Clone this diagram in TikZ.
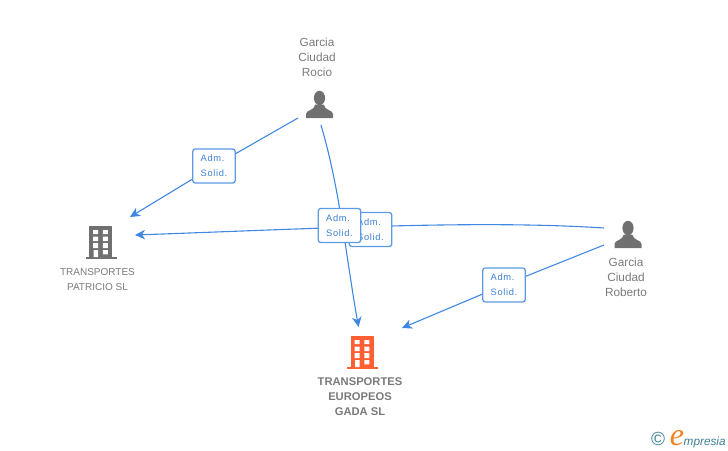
\documentclass[tikz,border=0pt]{standalone}
\usepackage{fontspec}
\setmainfont{Liberation Sans}
\newfontfamily\lblfont[LetterSpace=7]{Liberation Sans}
\newfontfamily\logofont[Ligatures=TeX]{Liberation Serif}
\usetikzlibrary{arrows.meta}
\pgfdeclarelayer{lines}
\pgfsetlayers{lines,main}
\definecolor{linkblue}{HTML}{3F87E3}
\definecolor{boxblue}{HTML}{5C9AE6}
\definecolor{lbltext}{HTML}{3B7FD4}
\definecolor{icongray}{HTML}{707070}
\definecolor{txtgray}{HTML}{7A7A7A}
\definecolor{bldorange}{HTML}{FF5F33}
\definecolor{logoteal}{HTML}{3F7F95}
\definecolor{logoorange}{HTML}{F58220}
\tikzset{
  x=1pt,y=-1pt,
  lbl/.style={draw=boxblue,line width=1.3pt,fill=white,rounded corners=2.5pt,
    minimum width=42.5pt,minimum height=34pt,inner sep=0pt,text=lbltext,align=left,
    font=\fontsize{9.3}{15}\lblfont},
  link/.style={draw=linkblue,line width=1.1pt},
  arrowlink/.style={link,-{Stealth[length=10pt,width=9.5pt,inset=3pt]}},
  person/.style={align=center,text=txtgray,inner sep=0pt,font=\fontsize{11.8}{15}\selectfont},
  company/.style={align=center,text=txtgray,inner sep=0pt,font=\fontsize{10}{15}\selectfont},
  maincompany/.style={align=center,text=txtgray,inner sep=0pt,font=\fontsize{11.2}{15}\bfseries},
  pics/building/.style={code={
    \fill[#1] (-11.5,-16.5) rectangle (11.5,14.5);
    \fill[#1] (-15,14.5) rectangle (16,16.5);
    \fill[white]
      (-7.3,-12.5) rectangle (-2.3,-8.5) (2.3,-12.5) rectangle (7.3,-8.5)
      (-7.3,-5.8) rectangle (-2.3,-1.5) (2.3,-5.8) rectangle (7.3,-1.5)
      (-7.3,0.5) rectangle (-2.3,5.5) (2.3,0.5) rectangle (7.3,5.5)
      (-7,7.5) rectangle (-2.3,14.5) (2.3,7.5) rectangle (7.3,11.8);
  }},
  pics/bust/.style={code={
    \fill[icongray] (0,-6.5) ellipse (5.6 and 7.2);
    \fill[icongray] (-13.5,13.5) -- (-13.5,9.5) .. controls (-13.5,5.5) and (-5,6) .. (-4.2,0)
      -- (4.2,0) .. controls (5,6) and (13.5,5.5) .. (13.5,9.5) -- (13.5,13.5) -- cycle;
  }},
}
\begin{document}
\begin{tikzpicture}
\path[use as bounding box] (0,0) rectangle (728,450);

% icons
\coordinate (rocioIcon) at (319.5,104.5);
\coordinate (robertoIcon) at (628,234.5);
\coordinate (patricioIcon) at (100.5,242.5);
\coordinate (gadaIcon) at (362,352.5);
\pic at (rocioIcon) {bust};
\pic at (robertoIcon) {bust};
\pic at (patricioIcon) {building=icongray};
\pic at (gadaIcon) {building=bldorange};

% texts
\node[person] (rocioText) at (317,57) {Garcia\\Ciudad\\Rocio};
\node[person] (robertoText) at (626,277) {Garcia\\Ciudad\\Roberto};
\node[company] (patricioText) at (97.5,279.5) {TRANSPORTES\\PATRICIO SL};
\node[maincompany] (gadaText) at (360,397) {TRANSPORTES\\EUROPEOS\\GADA SL};

% relation labels
\node[lbl] (lab1) at (214,166) {Adm.\\Solid.};
\node[lbl] (lab4) at (504,285) {Adm.\\Solid.};
\node[lbl] (lab3) at (370.5,229.5) {Adm.\\Solid.};
\node[lbl] (lab2) at (339.5,225.5) {Adm.\\Solid.};

% connector ends
\coordinate (rocioA) at (298,118);
\coordinate (rocioB) at (321,125);
\coordinate (robertoA) at (604,228);
\coordinate (robertoB) at (604,245);
\coordinate (patricioA) at (130,217);
\coordinate (patricioB) at (135,235);
\coordinate (gadaA) at (358.5,327);
\coordinate (gadaB) at (402,328);

\begin{pgfonlayer}{lines}
\draw[arrowlink] (rocioA) -- (lab1.center) -- (patricioA);
\draw[arrowlink] (robertoB) -- (lab4.center) -- (gadaB);
\draw[arrowlink] (rocioB) .. controls (340,190) and (345,250) .. (gadaA);
\draw[arrowlink] (robertoA) .. controls (480,220) and (330,228) .. (patricioB);
\end{pgfonlayer}

% logo
\node[inner sep=0pt,text=logoteal,font=\fontsize{19}{19}\selectfont] (logoC) at (658,439) {©};
\node[inner sep=0pt,text=logoorange,anchor=base,font=\fontsize{32}{32}\logofont\itshape] (logoE) at (677,445) {e};
\node[inner sep=0pt,text=logoteal,anchor=base west,font=\fontsize{11.8}{14}\selectfont\itshape] (logoT) at (683.5,445) {mpresia};
\end{tikzpicture}
\end{document}
